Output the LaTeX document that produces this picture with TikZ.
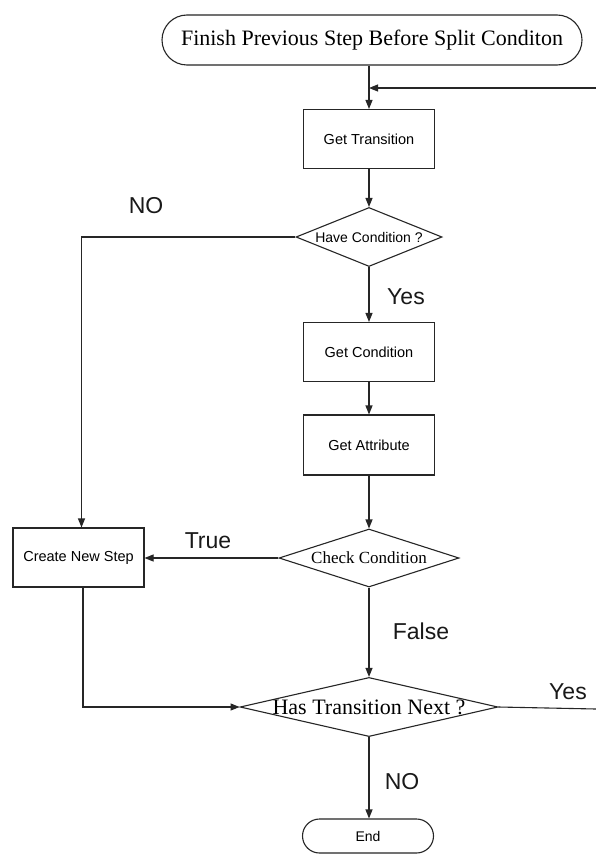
\documentclass[tikz,border=0pt]{standalone}
\usepackage{fontspec}
\setmainfont{Liberation Serif}
\newfontfamily\labelsans{Liberation Sans}
\usetikzlibrary{shapes.geometric,arrows.meta}

\begin{document}
\begin{tikzpicture}[x=1pt,y=-1pt,
  line width=1.1pt, draw=black!85,
  flow/.style={draw=black!85, line width=1.1pt, -{Triangle[length=9pt,width=7pt]}},
  link/.style={draw=black!85, line width=1.1pt},
  procbox/.style={draw, rectangle, inner sep=0pt, minimum width=131pt, minimum height=59pt,
    font=\labelsans\fontsize{14.5}{16}\selectfont},
  decision/.style={draw, diamond, inner sep=0pt},
  terminal/.style={draw, rectangle, inner sep=0pt},
  edgelabel/.style={font=\labelsans\fontsize{23}{26}\selectfont, text=black!90}
]
\fill[white] (0,0) rectangle (596,856);
\useasboundingbox (0,0) rectangle (596,856);

% terminals
\node[terminal, minimum width=420pt, minimum height=50pt, rounded corners=25pt,
      font=\fontsize{22}{25}\selectfont] (start) at (372,40)
      {Finish Previous Step Before Split Conditon};
\node[terminal, minimum width=131pt, minimum height=34pt, rounded corners=17pt,
      font=\labelsans\fontsize{14}{16}\selectfont] (finish) at (368,836) {End};

% process boxes
\node[procbox] (trans) at (369,139) {Get Transition};
\node[procbox] (getcond) at (369,352) {Get Condition};
\node[procbox, minimum height=60pt] (getattr) at (369,445) {Get Attribute};
\node[procbox] (newstep) at (78.5,557.5) {Create New Step};

% decisions
\node[decision, minimum width=146pt, minimum height=59pt, shape aspect=2.47,
      font=\labelsans\fontsize{14}{16}\selectfont] (havecond) at (369,237) {Have Condition ?};
\node[decision, minimum width=180pt, minimum height=58pt, shape aspect=3.1,
      font=\fontsize{17}{19}\selectfont] (check) at (369,558) {Check Condition};
\node[decision, minimum width=257pt, minimum height=59pt, shape aspect=4.36,
      font=\fontsize{22}{25}\selectfont] (hasnext) at (369,707) {Has Transition Next ?};

% loop ends at the page border and the join on the main line
\coordinate (loopin) at (596,88);
\coordinate (join) at (369,88);
\coordinate (loopout) at (596,709);

% connectors
\draw[flow] (start.south -| trans.north) -- (trans.north);
\draw[flow] (loopin) -- (join);
\draw[flow] (trans.south) -- (havecond.north);
\draw[flow] (havecond.west) -| ([xshift=3pt]newstep.north);
\draw[flow] (havecond.south) -- (getcond.north);
\draw[flow] (getcond.south) -- (getattr.north);
\draw[flow] (getattr.south) -- (check.north);
\draw[flow] (check.west) -- (check.west -| newstep.east);
\draw[flow] (check.south) -- (hasnext.north);
\draw[flow] ([xshift=4.5pt]newstep.south) |- (hasnext.west);
\draw[link] (hasnext.east) -- (loopout);
\draw[flow] (hasnext.south) -- (hasnext.south |- finish.north);

% branch labels
\node[edgelabel] (lblno1) at (146,206) {NO};
\node[edgelabel] (lblyes1) at (406,297) {Yes};
\node[edgelabel] (lbltrue) at (208,541) {True};
\node[edgelabel] (lblfalse) at (421,631) {False};
\node[edgelabel] (lblyes2) at (568,692) {Yes};
\node[edgelabel] (lblno2) at (402,782) {NO};
\end{tikzpicture}
\end{document}
